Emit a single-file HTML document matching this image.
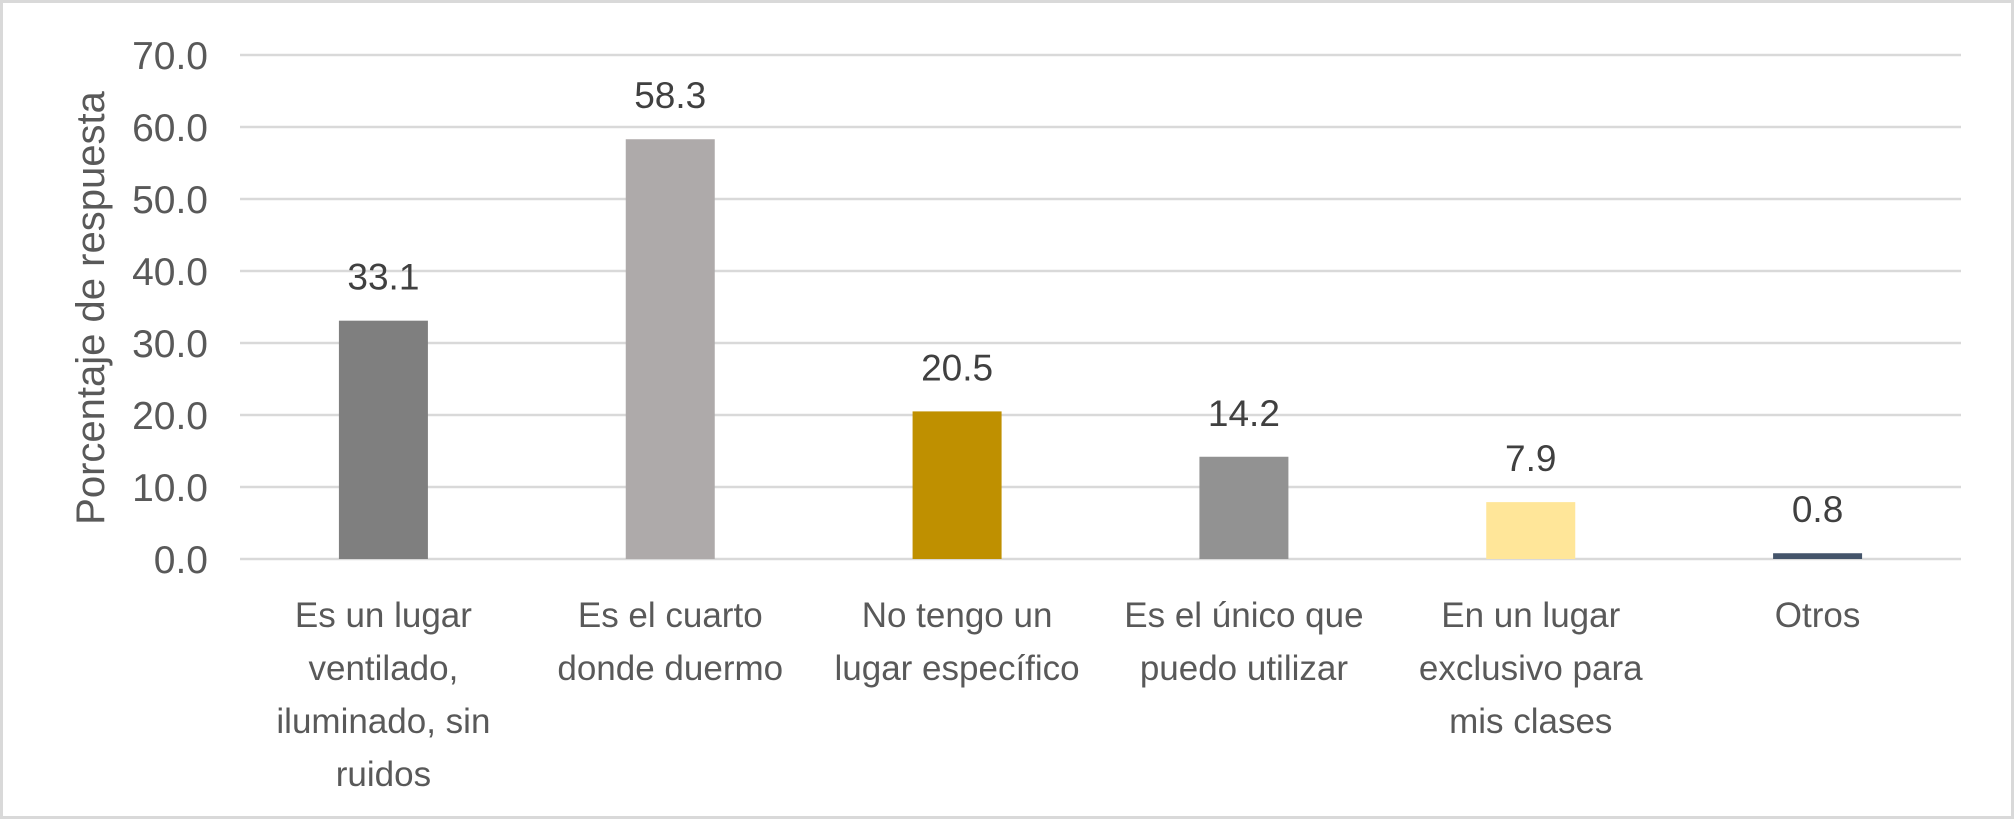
<!DOCTYPE html>
<html><head><meta charset="utf-8"><style>
html,body{margin:0;padding:0;background:#fff;}
svg{display:block;font-family:"Liberation Sans",sans-serif;}
</style></head><body>
<svg id="chart" width="2014" height="819" viewBox="0 0 2014 819">
<rect x="1.5" y="1.5" width="2011" height="816" fill="#fff" stroke="#d9d9d9" stroke-width="3"/>
<text transform="translate(104,308) rotate(-90)" text-anchor="middle" font-size="40" fill="#595959">Porcentaje de respuesta</text>
<g id="grid"></g><g id="bars"></g><g id="labels"></g>
</svg>
<script>
const categories=[["Es un lugar","ventilado,","iluminado, sin","ruidos"],["Es el cuarto","donde duermo"],["No tengo un","lugar específico"],["Es el único que","puedo utilizar"],["En un lugar","exclusivo para","mis clases"],["Otros"]];
const values=[33.1,58.3,20.5,14.2,7.9,0.8];
const valueLabels=["33.1","58.3","20.5","14.2","7.9","0.8"];
const ticks=[0,10,20,30,40,50,60,70];
const tickLabels=["0.0","10.0","20.0","30.0","40.0","50.0","60.0","70.0"];
const colors=["#7f7f7f","#aeaaaa","#bf9000","#929292","#ffe699","#44546a"];
const NS="http://www.w3.org/2000/svg";
const L=240,R=1961,T=55,B=559,maxV=70;
const y=v=>B-(v/maxV)*(B-T);
const band=(R-L)/categories.length;
const x=i=>L+band*(i+0.5);
function mk(tag,attrs,parent){const e=document.createElementNS(NS,tag);for(const k in attrs)e.setAttribute(k,attrs[k]);parent.appendChild(e);return e;}
const g=document.getElementById('grid'),b=document.getElementById('bars'),lb=document.getElementById('labels');
ticks.forEach((t,i)=>{
 const ln=mk('line',{x1:L,x2:R,y1:y(t),y2:y(t),stroke:'#d9d9d9','stroke-width':2.5},g);
 
 
 const tx=mk('text',{x:208,y:y(t)+14,'text-anchor':'end','font-size':39,fill:'#595959'},g);
 tx.textContent=tickLabels[i];
 
 
});
const bw=89;
values.forEach((v,i)=>{
 const r=mk('rect',{x:x(i)-bw/2,y:y(v),width:bw,height:B-y(v),fill:colors[i]},b);
 
 
 const vt=mk('text',{x:x(i),y:y(v)-31,'text-anchor':'middle','font-size':37,fill:'#404040'},lb);
 vt.textContent=valueLabels[i];
 
 
 categories[i].forEach((line,j)=>{
  const ct=mk('text',{x:x(i),y:627+53*j,'text-anchor':'middle','font-size':35,fill:'#595959'},lb);
  ct.textContent=line;
  
  
 });
});
</script>
</body></html>
